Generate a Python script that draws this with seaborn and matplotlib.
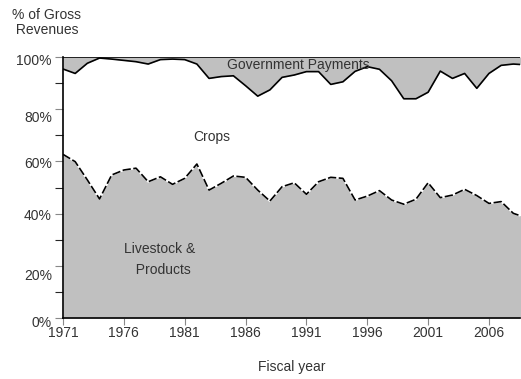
import matplotlib
matplotlib.use("Agg")
import matplotlib.pyplot as plt
from matplotlib import font_manager
from matplotlib.transforms import ScaledTranslation
import seaborn as sns
import pandas as pd

years = list(range(1971, 2010))

# Share of gross revenues from livestock & products (%)
livestock = [62.7, 59.9, 52.9, 45.6, 54.8, 56.7, 57.4, 52.2, 54.1, 51.2,
             53.5, 59.0, 49.0, 51.6, 54.4, 53.9, 49.0, 44.8, 50.3, 51.8,
             47.4, 52.2, 53.9, 53.5, 45.2, 46.7, 48.8, 45.2, 43.6, 45.5,
             51.8, 46.1, 47.1, 49.3, 46.9, 43.9, 44.6, 40.1, 38.5]

# Cumulative share of livestock plus crops (%); the rest is government payments
market_total = [95.4, 93.7, 97.6, 99.6, 99.2, 98.7, 98.2, 97.3, 99.0, 99.2,
                99.0, 97.3, 91.8, 92.5, 92.8, 89.0, 85.0, 87.4, 92.2, 93.1,
                94.4, 94.4, 89.5, 90.5, 94.5, 96.3, 95.3, 90.9, 84.0, 84.0,
                86.5, 94.6, 91.8, 93.7, 88.0, 93.7, 96.8, 97.3, 97.0]

y_ticks = [0, 20, 40, 60, 80, 100]
y_tick_labels = ["0%", "20%", "40%", "60%", "80%", "100%"]
x_ticks = [1971, 1976, 1981, 1986, 1991, 1996, 2001, 2006]

df = pd.DataFrame({"year": years, "livestock": livestock, "total": market_total})

sns.set_theme(style="white")
available = {f.name for f in font_manager.fontManager.ttflist}
family = "Liberation Sans Narrow" if "Liberation Sans Narrow" in available else "Liberation Sans"
plt.rcParams["font.family"] = [family, "DejaVu Sans"]

W, H = 521, 379
fig = plt.figure(figsize=(W / 100, H / 100), dpi=100)
ax = fig.add_axes([63 / W, (H - 318) / H, (520 - 63) / W, (318 - 57) / H])

fill = "#c0c0c0"
text_c = "#333333"

ax.fill_between(df["year"], 0, df["livestock"], color=fill, linewidth=0)
ax.fill_between(df["year"], df["total"], 100, color=fill, linewidth=0)

sns.lineplot(data=df, x="year", y="total", ax=ax, color="black", linewidth=1.2)
sns.lineplot(data=df, x="year", y="livestock", ax=ax, color="white", linewidth=1.3)
sns.lineplot(data=df, x="year", y="livestock", ax=ax, color="black",
             linewidth=1.2, linestyle=(0, (5, 1.5)))
ax.axhline(100, color="black", linewidth=1.2)

ax.set_xlim(1971, 2008.55)
ax.set_ylim(0, 100)
ax.set_xlabel("Fiscal year", fontsize=10, color=text_c, labelpad=14)
ax.set_ylabel("")

ax.set_xticks(x_ticks)
ax.set_xticklabels([str(x) for x in x_ticks])
ax.set_yticks(y_ticks)
ax.set_yticklabels(y_tick_labels)
ax.set_yticks([10, 30, 50, 70, 90], minor=True)

ax.tick_params(axis="both", labelsize=10, labelcolor=text_c, colors="#888888")
ax.tick_params(axis="x", which="major", length=5, width=0.8, direction="out",
               bottom=True, pad=1, labelcolor=text_c)
ax.tick_params(axis="y", which="both", length=6, width=0.8, direction="out",
               left=True, pad=2, labelcolor=text_c)

# small downward nudges of the y tick labels (in points)
nudges = [-2.5, -6.5, -1, -1, -5, -1.5]
for lbl, dy in zip(ax.get_yticklabels(), nudges):
    lbl.set_transform(lbl.get_transform() + ScaledTranslation(0, dy / 72, fig.dpi_scale_trans))

for side in ["top", "right"]:
    ax.spines[side].set_visible(False)
for side in ["left", "bottom"]:
    ax.spines[side].set_color("black")
    ax.spines[side].set_linewidth(1.2)

fig.text(12 / W, 1 - 8 / H, "% of Gross\n Revenues", ha="left", va="top",
         fontsize=10, color=text_c, linespacing=1.05)

ax.text(1990.3, 97, "Government Payments", ha="center", va="center",
        fontsize=10, color=text_c)
ax.text(1983.2, 69.5, "Crops", ha="center", va="center", fontsize=10, color=text_c)
ax.text(1978.9, 22.3, "Livestock &\n  Products", ha="center", va="center",
        fontsize=10, color=text_c, linespacing=1.6)

fig.savefig("out.png", dpi=100)
